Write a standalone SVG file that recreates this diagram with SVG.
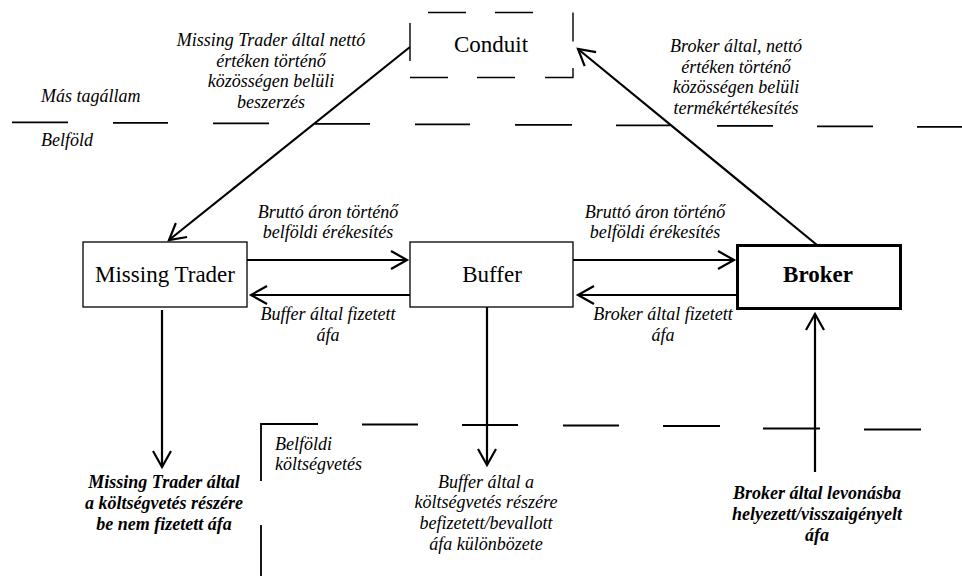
<svg xmlns="http://www.w3.org/2000/svg" width="962" height="576" viewBox="0 0 962 576">
<defs>
<style>
.node,.lbl,.lbl-l,.blbl{font-family:"Liberation Serif",Tinos,"Times New Roman",Times,"Nimbus Roman","Noto Serif","DejaVu Serif",FreeSerif,serif;fill:#000}
.node{font-size:23px;text-anchor:middle}
.lbl{font-size:18px;font-style:italic;text-anchor:middle}
.lbl-l{font-size:18px;font-style:italic}
.blbl{font-size:18px;font-style:italic;font-weight:bold;text-anchor:middle}
.box{fill:#fff;stroke:#000;stroke-width:1.3}
.sep{stroke:#000;stroke-width:1.8;fill:none}
.con{stroke:#000;stroke-width:2.2;fill:none;marker-end:url(#arr)}
</style>
<marker id="arr" markerUnits="userSpaceOnUse" viewBox="-18 -11 20 22" refX="0" refY="0" markerWidth="20" markerHeight="22" orient="auto" overflow="visible">
<path d="M -16 -9 L 0 0 L -16 9" fill="none" stroke="#000" stroke-width="2.2"/>
</marker>
</defs>
<rect width="962" height="576" fill="#fff"/>

<g id="separators">
<path class="sep" d="M12 122.3H68 M113 122.8H168 M213 123.3H269 M315 123.8H370 M415 124.3H470 M515 124.8H572 M616 125.3H670 M717 125.8H773 M817 126.3H873 M917 126.8H962"/>
<path class="sep" d="M261 481V424H318 M362 424.5H418 M462 425H518 M563 425.5H619 M663 426H720 M763 428.5H820 M864 429.5H921 M261 525V576"/>
</g>

<g id="region-labels">
<text class="lbl-l" x="41" y="102">Más tagállam</text>
<text class="lbl-l" x="41" y="146">Belföld</text>
<text class="lbl-l" x="275" y="450">Belföldi</text>
<text class="lbl-l" x="275" y="470">költségvetés</text>
</g>

<g id="conduit">
<path d="M428 12.5H466 M495 12.5H533 M573 12.5V41.5 M573 68V77.5H545 M515 77.5H477 M448 77.5H410 M410 61V23" fill="none" stroke="#000" stroke-width="1.4"/>
<text class="node" x="491" y="52">Conduit</text>
</g>

<g id="missing-trader">
<rect class="box" x="83" y="242" width="164" height="65"/>
<text class="node" x="165" y="282">Missing Trader</text>
</g>

<g id="buffer">
<rect class="box" x="410" y="242" width="163" height="65"/>
<text class="node" x="492" y="282">Buffer</text>
</g>

<g id="broker">
<rect x="737.5" y="245.5" width="163" height="63" fill="#fff" stroke="#000" stroke-width="3"/>
<text class="node" x="818" y="282" font-weight="bold">Broker</text>
</g>

<g id="connectors">
<line class="con" x1="410" y1="47" x2="169" y2="240"/>
<line class="con" x1="817" y1="245" x2="578" y2="49"/>
<line class="con" x1="247" y1="260" x2="407" y2="260"/>
<line class="con" x1="410" y1="295" x2="251" y2="295"/>
<line class="con" x1="573" y1="260" x2="734" y2="260"/>
<line class="con" x1="737" y1="295" x2="578" y2="295"/>
<line class="con" x1="162" y1="310" x2="162" y2="467"/>
<line class="con" x1="487" y1="307" x2="487" y2="465"/>
<line class="con" x1="815" y1="472" x2="815" y2="314"/>
</g>

<g id="connector-labels">
<text class="lbl" x="271" y="46">Missing Trader által nettó</text>
<text class="lbl" x="271" y="67">értéken történő</text>
<text class="lbl" x="271" y="87">közösségen belüli</text>
<text class="lbl" x="271" y="108">beszerzés</text>

<text class="lbl" x="736" y="52">Broker által, nettó</text>
<text class="lbl" x="736" y="73">értéken történő</text>
<text class="lbl" x="736" y="93">közösségen belüli</text>
<text class="lbl" x="736" y="114">termékértékesítés</text>

<text class="lbl" x="328" y="218">Bruttó áron történő</text>
<text class="lbl" x="328" y="238">belföldi érékesítés</text>
<text class="lbl" x="328" y="320">Buffer által fizetett</text>
<text class="lbl" x="328" y="341">áfa</text>

<text class="lbl" x="655" y="218">Bruttó áron történő</text>
<text class="lbl" x="655" y="238">belföldi érékesítés</text>
<text class="lbl" x="663" y="320">Broker által fizetett</text>
<text class="lbl" x="663" y="341">áfa</text>

<text class="blbl" x="164" y="488">Missing Trader által</text>
<text class="blbl" x="164" y="509">a költségvetés részére</text>
<text class="blbl" x="164" y="530">be nem fizetett áfa</text>

<text class="lbl" x="486" y="488">Buffer által a</text>
<text class="lbl" x="486" y="508">költségvetés részére</text>
<text class="lbl" x="486" y="529">befizetett/bevallott</text>
<text class="lbl" x="486" y="550">áfa különbözete</text>

<text class="blbl" x="817" y="499">Broker által levonásba</text>
<text class="blbl" x="817" y="520">helyezett/visszaigényelt</text>
<text class="blbl" x="817" y="541">áfa</text>
</g>
</svg>
